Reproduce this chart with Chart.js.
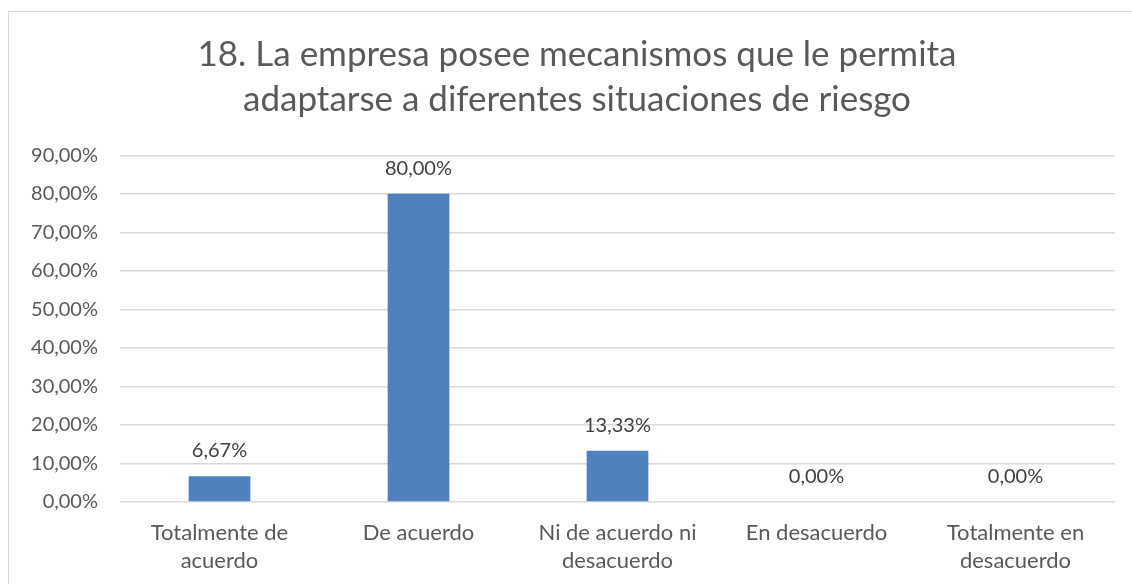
<!DOCTYPE html>
<html>
<head>
<meta charset="utf-8">
<script src="https://cdn.jsdelivr.net/npm/chart.js@4"></script>
<style>
  body { margin: 0; background: #fff; }
  #frame { position: absolute; left: 8px; top: 11px; width: 1200px; height: 700px;
           border-left: 1px solid #d9d9d9; border-top: 1px solid #d9d9d9; }
  #wrap { position: absolute; left: 0; top: 0; width: 1132px; height: 584px; }
</style>
</head>
<body>
<div id="frame"></div>
<div id="wrap"><canvas id="chart" width="1132" height="584"></canvas></div>
<script>
// chart values
const categories = [
    ['Totalmente de', 'acuerdo'],
    'De acuerdo',
    ['Ni de acuerdo ni', 'desacuerdo'],
    'En desacuerdo',
    ['Totalmente en', 'desacuerdo']
];
const percents = [6.67, 80.00, 13.33, 0.00, 0.00];
const titleLines = ['18. La empresa posee mecanismos que le permita', 'adaptarse a diferentes situaciones de riesgo'];

const fmt = v => v.toFixed(2).replace('.', ',') + '%';

// draws the value above each bar
const valueLabels = {
    id: 'valueLabels',
    afterLayout(chart) {
        // title in the original sits a bit right of the canvas centre
        chart.titleBlock.left += 26;
    },
    afterDatasetsDraw(chart) {
        const ctx = chart.ctx;
        const meta = chart.getDatasetMeta(0);
        ctx.save();
        ctx.font = '20px Lato';
        ctx.fillStyle = '#404040';
        ctx.textAlign = 'center';
        ctx.textBaseline = 'alphabetic';
        meta.data.forEach((bar, i) => {
            ctx.fillText(fmt(percents[i]), bar.x, bar.y - 19);
        });
        ctx.restore();
    }
};

new Chart(document.getElementById('chart'), {
    type: 'bar',
    data: {
        labels: categories,
        datasets: [{
            data: percents,
            backgroundColor: '#4f81bd',
            barPercentage: 0.62,
            categoryPercentage: 0.5
        }]
    },
    options: {
        responsive: false,
        animation: false,
        devicePixelRatio: 1,
        layout: { padding: { top: 20, left: 13, right: 17, bottom: 0 } },
        plugins: {
            legend: { display: false },
            tooltip: { enabled: false },
            title: {
                display: true,
                text: titleLines,
                color: '#595959',
                font: { family: 'Lato', size: 35, weight: 'normal', lineHeight: 1.29 },
                padding: { top: 12, bottom: 33 }
            }
        },
        scales: {
            x: {
                afterFit(scale) { scale.height = 82; },
                grid: { display: false, drawTicks: false },
                border: { display: false },
                ticks: {
                    color: '#595959',
                    font: { family: 'Lato', size: 22, lineHeight: 1.27 },
                    padding: 17,
                    maxRotation: 0,
                    autoSkip: false
                }
            },
            y: {
                min: 0,
                max: 90,
                afterFit(scale) { scale.width = 107; },
                grid: { color: '#d9d9d9', lineWidth: 1.5, drawTicks: false },
                border: { display: false },
                ticks: {
                    stepSize: 10,
                    color: '#595959',
                    font: { family: 'Lato', size: 20 },
                    padding: 22,
                    callback: v => fmt(v)
                }
            }
        }
    },
    plugins: [valueLabels]
});
</script>
</body>
</html>
